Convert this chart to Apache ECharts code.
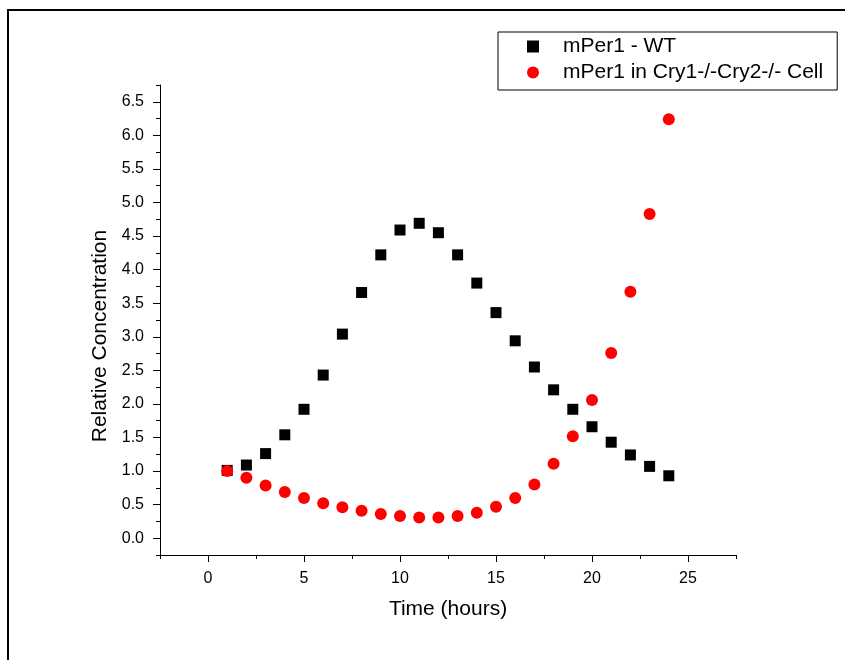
<!DOCTYPE html>
<html>
<head>
<meta charset="utf-8">
<script src="https://cdn.jsdelivr.net/npm/echarts@6/dist/echarts.min.js"></script>
<style>
  html, body { margin: 0; padding: 0; background: #fff; }
  #chart { width: 845px; height: 660px; position: absolute; left: 0; top: 0; }
  #frame { position: absolute; left: 7px; top: 9px; width: 845px; height: 660px;
           border-left: 2px solid #000; border-top: 2px solid #000; pointer-events: none; }
</style>
</head>
<body>
<div id="chart"></div>
<div id="frame"></div>
<script>
const hours = [1,2,3,4,5,6,7,8,9,10,11,12,13,14,15,16,17,18,19,20,21,22,23,24];
const wtValues = [1.01,1.09,1.26,1.54,1.92,2.43,3.04,3.66,4.22,4.59,4.69,4.55,4.22,3.80,3.36,2.94,2.55,2.21,1.92,1.66,1.43,1.24,1.07,0.93];
const cryValues = [1.00,0.90,0.785,0.69,0.60,0.52,0.46,0.41,0.36,0.33,0.31,0.31,0.33,0.38,0.47,0.60,0.80,1.11,1.52,2.06,2.76,3.67,4.83,6.24];
const seriesNames = ['mPer1 - WT', 'mPer1 in Cry1-/-Cry2-/- Cell'];
const xMajorTicks = [0,5,10,15,20,25];
const yMajorTicks = [0,0.5,1,1.5,2,2.5,3,3.5,4,4.5,5,5.5,6,6.5];

const FONT = 'Liberation Sans';
const chart = echarts.init(document.getElementById('chart'));
const xRange = {min: -2.5, max: 27.5};
const yRange = {min: -0.25, max: 6.75};

chart.setOption({
  animation: false,
  backgroundColor: 'transparent',
  grid: {left: 160, right: 109, top: 85, bottom: 105},
  legend: {
    orient: 'vertical',
    left: 498, top: 32,
    padding: [4, 14, 7, 29],
    borderColor: '#000', borderWidth: 1,
    itemWidth: 12, itemHeight: 12, itemGap: 5,
    textStyle: {fontFamily: FONT, fontSize: 21, color: '#000', padding: [0, 0, 0, 19]},
    data: seriesNames
  },
  xAxis: [{
    type: 'value', ...xRange,
    name: 'Time (hours)', nameLocation: 'middle', nameGap: 44,
    nameTextStyle: {fontFamily: FONT, fontSize: 21, color: '#000'},
    axisLine: {onZero: false, lineStyle: {color: '#000', width: 1}},
    axisTick: {inside: false, length: 7, customValues: xMajorTicks, lineStyle: {color: '#000'}},
    axisLabel: {customValues: xMajorTicks, fontFamily: FONT, fontSize: 16, color: '#000', margin: 16},
    splitLine: {show: false}
  }, {
    type: 'value', ...xRange, interval: 2.5, position: 'bottom',
    axisLine: {show: false, onZero: false},
    axisTick: {length: 4, lineStyle: {color: '#000'}},
    axisLabel: {show: false}, splitLine: {show: false}
  }],
  yAxis: [{
    type: 'value', ...yRange,
    name: 'Relative Concentration', nameLocation: 'middle', nameGap: 48,
    nameTextStyle: {fontFamily: FONT, fontSize: 21, color: '#000', padding: [0, 32, 0, 0]},
    axisLine: {onZero: false, lineStyle: {color: '#000', width: 1}},
    axisTick: {length: 7, customValues: yMajorTicks, lineStyle: {color: '#000'}},
    axisLabel: {customValues: yMajorTicks, fontFamily: FONT, fontSize: 16, color: '#000', margin: 16,
                formatter: v => v.toFixed(1)},
    splitLine: {show: false}
  }, {
    type: 'value', ...yRange, interval: 0.25, position: 'left',
    axisLine: {show: false, onZero: false},
    axisTick: {length: 4, lineStyle: {color: '#000'}},
    axisLabel: {show: false}, splitLine: {show: false}
  }],
  series: [{
    name: seriesNames[0], type: 'scatter', symbol: 'rect', symbolSize: 11,
    itemStyle: {color: '#000', opacity: 1},
    data: hours.map((h, i) => [h, wtValues[i]])
  }, {
    name: seriesNames[1], type: 'scatter', symbol: 'circle', symbolSize: 12,
    itemStyle: {color: '#ff0000', opacity: 1},
    data: hours.map((h, i) => [h, cryValues[i]])
  }]
});
</script>
</body>
</html>
